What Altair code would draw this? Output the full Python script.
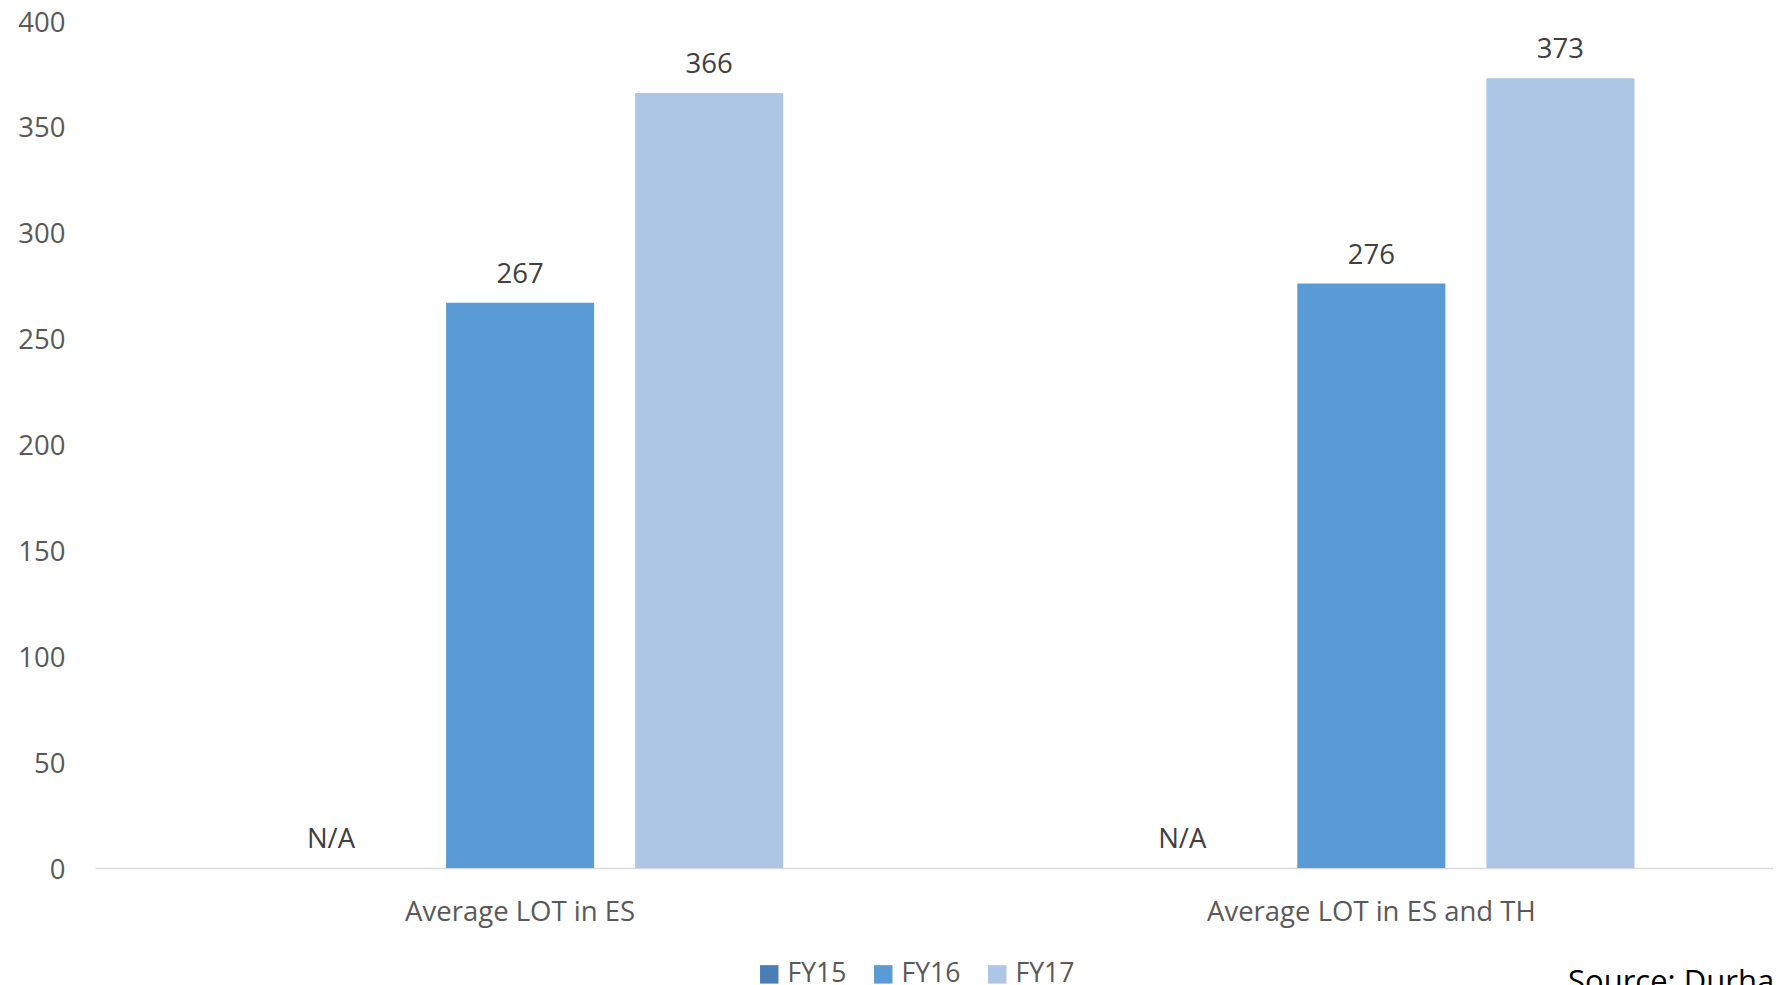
import altair as alt
import pandas as pd

categories = ["Average LOT in ES", "Average LOT in ES and TH"]
series = ["FY15", "FY16", "FY17"]
values_es = [None, 267, 366]
values_es_th = [None, 276, 373]
colors = ["#4A7EB4", "#5B9BD5", "#AEC6E5"]
y_ticks = [0, 50, 100, 150, 200, 250, 300, 350, 400]
source_note = "Source: Durham"

rows = []
for cat, vals in zip(categories, [values_es, values_es_th]):
    for s, v in zip(series, vals):
        rows.append({
            "category": cat,
            "series": s,
            "value": v,
            "ypos": v if v is not None else 0,
            "label": str(v) if v is not None else "N/A",
        })
df = pd.DataFrame(rows)

FONT = "Open Sans"

x_enc = alt.X(
    "category:N",
    sort=categories,
    scale=alt.Scale(paddingInner=0.3818, paddingOuter=0.1765, align=0.539),
    axis=alt.Axis(
        title=None, labelAngle=0, labelFontSize=27.5, labelColor="#595959",
        labelFont=FONT, labelPadding=30, ticks=False, tickSize=0,
        domainColor="#D9D9D9", domainWidth=1.5, grid=False, labelLimit=0,
    ),
)
xoff_enc = alt.XOffset("series:N", sort=series,
                       scale=alt.Scale(paddingInner=0.217, paddingOuter=0))
y_axis = alt.Axis(
    title=None, values=y_ticks, labelFontSize=27.5, labelColor="#595959",
    labelFont=FONT, labelPadding=30, ticks=False, tickSize=0, domain=False,
    grid=False, labelOffset=2,
)
y_scale = alt.Scale(domain=[0, 400], nice=False)

bars = alt.Chart(df).transform_filter("isValid(datum.value)").mark_bar().encode(
    x=x_enc,
    xOffset=xoff_enc,
    y=alt.Y("value:Q", scale=y_scale, axis=y_axis),
    color=alt.Color(
        "series:N",
        scale=alt.Scale(domain=series, range=colors),
        legend=alt.Legend(
            title=None, orient="none", legendX=661, legendY=940,
            direction="horizontal", symbolType="square", symbolSize=340,
            symbolStrokeWidth=0, labelFontSize=26.5, labelFont=FONT,
            labelColor="#595959", labelOffset=5, columnPadding=23,
            padding=0, labelLimit=0,
        ),
    ),
)

labels = alt.Chart(df).mark_text(
    baseline="alphabetic", align="center", dy=-20, fontSize=27.5,
    font=FONT, color="#404040",
).encode(
    x=alt.X("category:N", sort=categories),
    xOffset=alt.XOffset("series:N", sort=series),
    y=alt.Y("ypos:Q", scale=y_scale, axis=y_axis),
    text="label:N",
)

note = alt.Chart(pd.DataFrame({"note": [source_note]})).mark_text(
    align="left", baseline="alphabetic", fontSize=31, font=FONT, color="#000000",
).encode(
    x=alt.value(1473),
    y=alt.value(971),
    text="note:N",
)

chart = alt.layer(bars, labels, note).properties(
    width=1678,
    height=847,
    autosize=alt.AutoSizeParams(type="none"),
    padding={"left": 87, "top": 13, "right": 0, "bottom": 117},
    background="white",
).configure_view(stroke="transparent")

chart.save("out.html", embed_options={"renderer": "svg", "actions": False})
